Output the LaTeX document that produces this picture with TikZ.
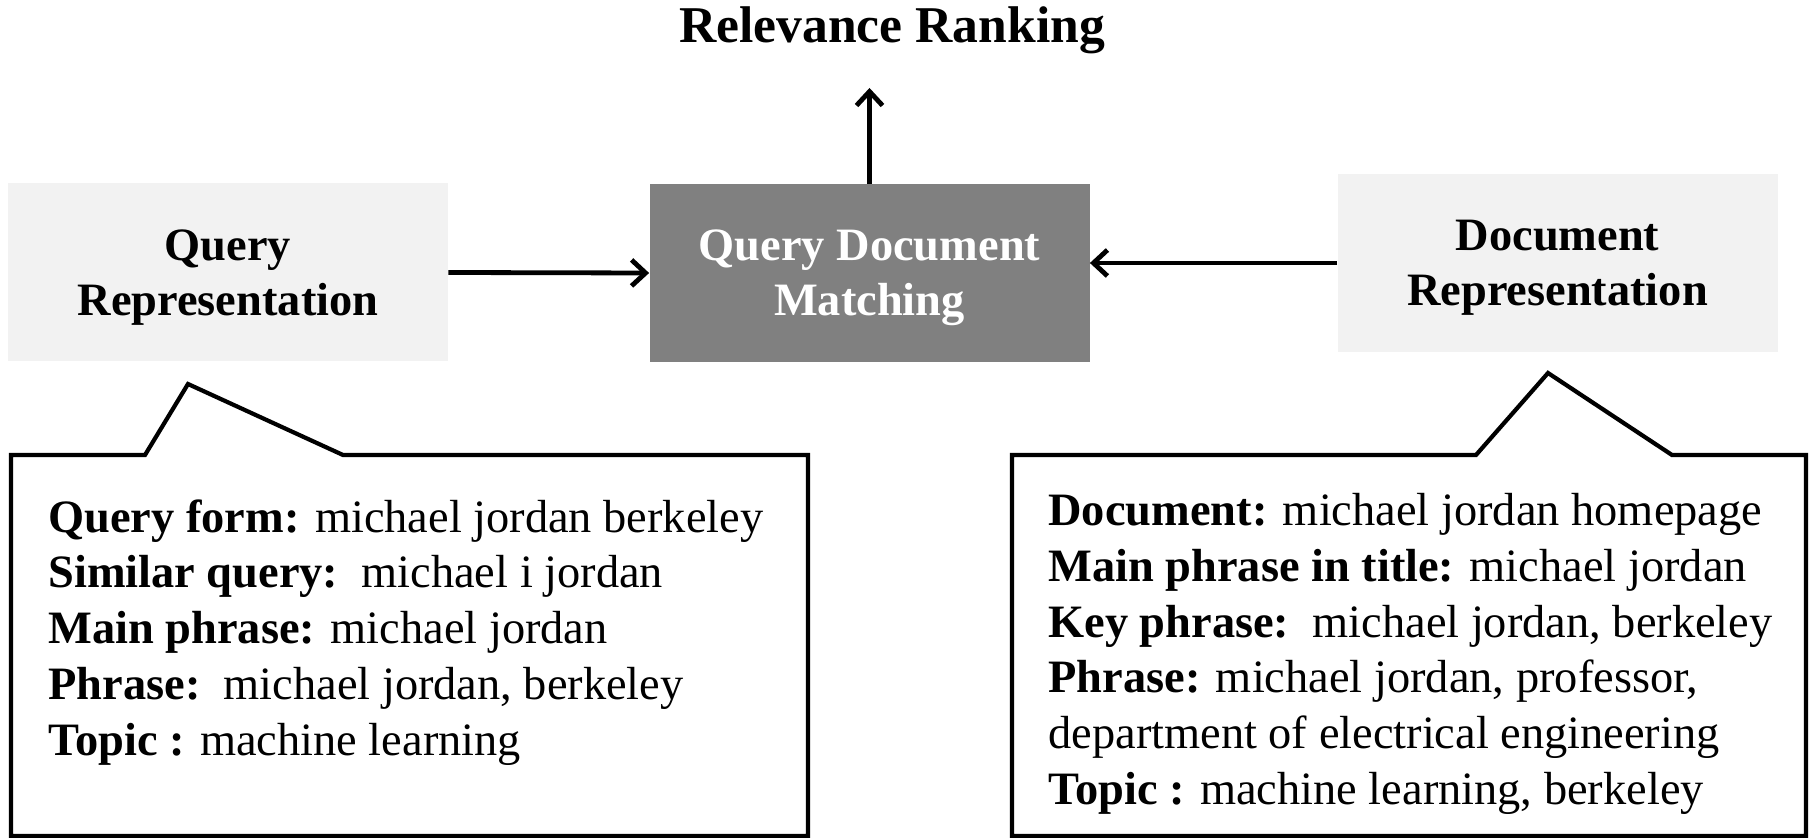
\documentclass[tikz,border=0pt]{standalone}
\usepackage{fontspec}
\setmainfont{Liberation Serif}
\usetikzlibrary{arrows.meta}
\definecolor{lightfill}{HTML}{F2F2F2}
\definecolor{darkfill}{HTML}{808080}
\begin{document}
\begin{tikzpicture}[x=0.5pt,y=-0.5pt,
  boxlabel/.style={font=\fontsize{23.2}{27.5}\selectfont\bfseries, align=center,
    text depth=0pt, inner sep=0pt, minimum width=220pt, minimum height=89pt},
  lightbox/.style={boxlabel, fill=lightfill, text=black},
  darkbox/.style={boxlabel, fill=darkfill, text=white},
  flowarrow/.style={line width=2.4pt, -{Straight Barb[length=7pt,width=13pt]}},
  callout/.style={line width=2.1pt, line join=miter},
  infotext/.style={font=\fontsize{23.2}{27.9}\selectfont, align=left, inner sep=0pt, anchor=north west}]

\useasboundingbox (0,0) rectangle (1813,838);

% heading
\node[font=\fontsize{25.8}{30}\selectfont\bfseries, inner sep=0pt, anchor=base] (ranking) at (892,43) {Relevance Ranking};

% main boxes
\node[lightbox] (qrep) at (228,272.5) {Query\\Representation};
\node[darkbox] (match) at (869.5,273) {Query Document\\Matching};
\node[lightbox] (drep) at (1557.5,263) {Document\\Representation};

% flow
\draw[flowarrow] (qrep.east) -- (match.west);
\draw[flowarrow] (drep.west) -- (drep.west -| match.east);
\coordinate (rankpt) at (870,88);
\draw[flowarrow] (match.north) -- (match.north |- rankpt);

% callout under the query representation
\coordinate (qtip) at (188,384);
\draw[callout] (11,455) -- (145,455) -- (qtip) -- (343,455) -- (808,455)
  -- (808,836) -- (11,836) -- cycle;
\node[infotext] (qinfo) at (48,499) {%
\textbf{Query form:} michael jordan berkeley\\
\textbf{Similar query:}\ \ michael i jordan\\
\textbf{Main phrase:} michael jordan\\
\textbf{Phrase:}\ \ michael jordan, berkeley\\
\textbf{Topic :} machine learning};

% callout under the document representation
\coordinate (dtip) at (1548,373);
\draw[callout] (1012,455) -- (1476,455) -- (dtip) -- (1672,455) -- (1806,455)
  -- (1806,836) -- (1012,836) -- cycle;
\node[infotext] (dinfo) at (1048,493) {%
\textbf{Document:} michael jordan homepage\\
\textbf{Main phrase in title:} michael jordan\\
\textbf{Key phrase:}\ \ michael jordan, berkeley\\
\textbf{Phrase:} michael jordan, professor,\\
department of electrical engineering\\
\textbf{Topic :} machine learning, berkeley};
\end{tikzpicture}
\end{document}
